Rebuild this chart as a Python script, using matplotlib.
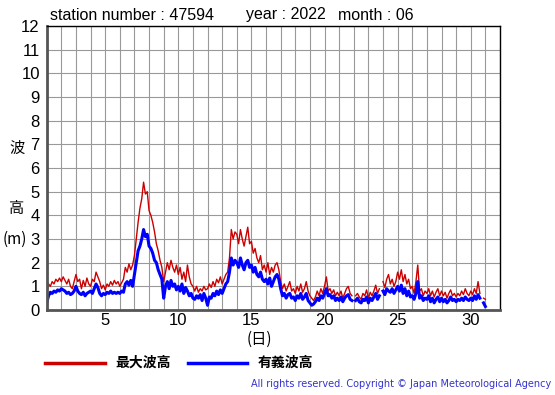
import numpy as np
import matplotlib
matplotlib.use("Agg")
import matplotlib.pyplot as plt

# 3-hourly samples, June 2022, station 47594 (8 values per day, day 1 .. day 30, then 31.0)
max_wave = [
    0.7, 1.1, 1.0, 1.2, 1.1, 1.3, 1.2, 1.35,
    1.2, 1.4, 1.25, 1.1, 1.3, 1.0, 0.9, 1.2,
    1.5, 1.2, 1.3, 0.9, 1.25, 1.0, 1.35, 1.1,
    1.0, 1.3, 1.2, 1.6, 1.4, 1.2, 0.9, 1.05,
    0.85, 1.1, 1.0, 1.2, 1.05, 1.25, 1.1, 1.2,
    1.0, 1.15, 1.3, 1.8, 1.6, 1.95, 1.7, 1.9,
    2.3, 3.0, 3.7, 4.3, 4.7, 5.4, 4.9, 5.0,
    4.2, 4.0, 3.7, 3.3, 2.8, 2.5, 2.1, 1.8,
    1.2, 1.6, 2.0, 1.7, 2.1, 1.8, 1.6, 1.9,
    1.5, 1.8, 1.3, 1.6, 1.2, 1.9, 1.4, 1.1,
    1.0, 0.8, 1.0, 0.75, 0.9, 0.8, 1.0, 0.85,
    0.9, 1.1, 0.95, 1.2, 1.0, 1.3, 1.15, 1.4,
    1.1, 1.3, 1.5, 1.6, 2.2, 3.4, 3.0, 3.3,
    3.2, 2.8, 3.4, 3.0, 2.7, 3.1, 3.5, 2.8,
    2.9, 2.4, 2.6, 2.2, 2.0, 2.3, 1.7, 1.9,
    1.6, 2.0, 1.5, 1.8, 1.6, 1.9, 2.0, 1.7,
    1.2, 0.9, 1.1, 0.8, 1.0, 1.2, 0.8, 0.9,
    0.7, 1.0, 0.8, 1.1, 0.75, 0.9, 1.2, 0.8,
    0.6, 0.5, 0.4, 0.55, 0.8, 0.6, 0.9, 0.7,
    1.0, 1.4, 0.8, 0.9, 0.7, 0.85, 0.6, 0.75,
    0.6, 0.8, 0.5, 0.7, 0.9, 1.0, 0.7, 0.6,
    np.nan, 0.6, 0.7, 0.55, 0.45, 0.7, 0.6, 0.85,
    0.5, 0.75, 0.6, 0.8, 1.05, 0.7, 0.9, np.nan,
    1.2, 0.95, 1.3, 1.5, 1.1, 1.3, 1.0, 1.2,
    1.6, 1.3, 1.7, 1.2, 1.5, 1.1, 1.3, 0.9,
    1.0, 0.7, 1.2, 1.9, 0.8, 0.9, 0.6, 0.8,
    0.7, 0.9, 0.6, 0.8, 0.55, 0.75, 0.9, 0.6,
    0.8, 0.6, 0.75, 0.5, 0.7, 0.85, 0.6, 0.7,
    0.55, 0.7, 0.6, 0.8, 0.65, 0.9, 0.7, 0.6,
    0.8, 0.65, 0.9, 0.7, 1.2, 0.7, np.nan, 0.5,
    0.45,
]
sig_wave = [
    0.3, 0.6, 0.75, 0.7, 0.8, 0.75, 0.85, 0.8,
    0.9, 0.85, 0.8, 0.7, 0.75, 0.65, 0.7, 0.8,
    1.0, 0.8, 0.7, 0.65, 0.75, 0.6, 0.7, 0.75,
    0.8, 0.7, 0.9, 1.1, 0.95, 0.7, 0.6, 0.7,
    0.65, 0.75, 0.7, 0.8, 0.7, 0.75, 0.7, 0.75,
    0.7, 0.8, 0.75, 1.1, 1.2, 1.05, 1.25, 1.0,
    1.5, 2.0, 2.5, 2.7, 3.0, 3.4, 3.1, 3.2,
    2.7, 2.6, 2.4, 2.1, 2.0, 1.7, 1.5, 1.3,
    0.5, 1.0, 1.2, 0.9, 1.25, 1.0, 1.1, 0.85,
    1.0, 0.8, 1.1, 0.7, 0.95, 0.8, 0.6, 0.7,
    0.5, 0.45, 0.6, 0.5, 0.65, 0.4, 0.7, 0.5,
    0.2, 0.55, 0.5, 0.7, 0.6, 0.8, 0.65, 0.85,
    0.7, 0.9, 1.1, 1.2, 1.6, 2.2, 1.9, 2.1,
    2.0, 1.8, 2.2, 1.9, 1.7, 2.0, 2.1, 1.8,
    1.9, 1.6, 1.8, 1.5, 1.4, 1.6, 1.3, 1.2,
    1.3, 1.1, 1.35, 1.0, 1.2, 1.4, 1.5, 1.3,
    0.9, 0.6, 0.7, 0.5, 0.65, 0.7, 0.5, 0.55,
    0.4, 0.6, 0.5, 0.7, 0.45, 0.55, 0.7, 0.4,
    0.3, 0.2, 0.25, 0.35, 0.5, 0.4, 0.6, 0.5,
    0.7, 0.9, 0.6, 0.65, 0.5, 0.6, 0.4, 0.5,
    0.4, 0.55, 0.35, 0.5, 0.6, 0.65, 0.45, 0.4,
    np.nan, 0.4, 0.5, 0.35, 0.3, 0.45, 0.4, 0.55,
    0.3, 0.5, 0.4, 0.55, 0.7, 0.45, 0.6, np.nan,
    0.8, 0.65, 0.9, 0.8, 0.75, 0.9, 0.7, 0.85,
    1.0, 0.8, 1.05, 0.7, 0.9, 0.6, 0.8, 0.55,
    0.6, 0.45, 0.7, 1.2, 0.5, 0.6, 0.4, 0.5,
    0.45, 0.6, 0.35, 0.5, 0.3, 0.45, 0.55, 0.35,
    0.5, 0.35, 0.45, 0.3, 0.4, 0.55, 0.4, 0.45,
    0.35, 0.45, 0.4, 0.5, 0.4, 0.55, 0.45, 0.4,
    0.5, 0.4, 0.6, 0.45, 0.65, 0.5, np.nan, 0.3,
    0.15,
]
days = 1 + np.arange(len(max_wave)) / 8.0

x_ticks = [5, 10, 15, 20, 25, 30]
y_ticks = list(range(0, 13))

W, H = 555, 395
fig = plt.figure(figsize=(W / 100, H / 100), dpi=100)
fig.patch.set_facecolor("white")

def px(x, y):
    return x / W, 1 - y / H

ax = fig.add_axes([46.7 / W, 1 - 310 / H, (500 - 46.7) / W, (310 - 26) / H])
ax.plot(days, max_wave, color="#cc0000", lw=1.0)
ax.plot(days, sig_wave, color="#0000ff", lw=2.2)

ax.set_xlim(1, 32)
ax.set_ylim(0, 12)
ax.set_xticks(x_ticks)
ax.set_yticks(y_ticks)
ax.set_xticks(range(1, 33), minor=True)
ax.grid(True, which="both", color="#999999", lw=0.8)
ax.tick_params(which="both", length=0)
ax.tick_params(axis="x", pad=2.5, labelsize=12)
ax.tick_params(axis="y", pad=5, labelsize=12)
for lab in ax.get_xticklabels() + ax.get_yticklabels():
    lab.set_family("Liberation Sans")
for side in ["top", "right"]:
    ax.spines[side].set_color("black")
    ax.spines[side].set_linewidth(1.0)
for side in ["left", "bottom"]:
    ax.spines[side].set_color("#555555")
    ax.spines[side].set_linewidth(2.0)

hdr = dict(fontsize=11.5, family="Liberation Sans", va="center", ha="left")
fig.text(*px(50, 15), "station number : 47594", **hdr)
fig.text(*px(246, 15), "year : 2022", **hdr)
fig.text(*px(338, 15), "month : 06", **hdr)

jp = ["Noto Sans CJK JP", "DejaVu Sans"]
fig.text(*px(17, 148), "波", family=jp, fontsize=11, ha="center", va="center")
fig.text(*px(17, 208), "高", family=jp, fontsize=11, ha="center", va="center")
fig.text(*px(15, 239), "(m)", family=jp, fontsize=11, ha="center", va="center")
fig.text(*px(259, 339), "(日)", family=jp, fontsize=11, ha="center", va="center")

# legend drawn by hand to match the layout
fig.add_artist(plt.Line2D([45 / W, 105 / W], [1 - 363 / H] * 2, color="#cc0000", lw=2.5))
fig.text(*px(115, 363), "最大波高", family=jp, fontsize=10, weight="bold", va="center")
fig.add_artist(plt.Line2D([188 / W, 247 / W], [1 - 363 / H] * 2, color="#0000ff", lw=2.5))
fig.text(*px(258, 363), "有義波高", family=jp, fontsize=10, weight="bold", va="center")

fig.text(*px(551, 384), "All rights reserved. Copyright © Japan Meteorological Agency",
         family="DejaVu Sans", fontsize=7, color="#3333cc", ha="right", va="center")

fig.savefig("out.png", dpi=100)
